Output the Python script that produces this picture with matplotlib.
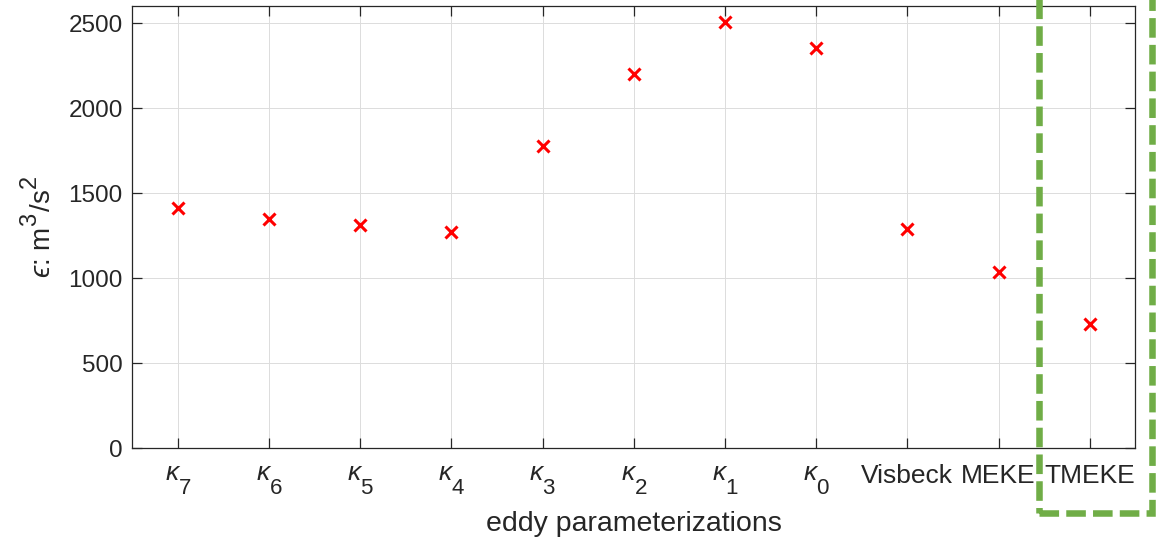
import matplotlib
matplotlib.use("Agg")
import matplotlib.pyplot as plt
from matplotlib.patches import Rectangle
import matplotlib._mathtext as _mt

# MATLAB-like TeX rendering: larger, lower sub/superscripts
_mt.SHRINK_FACTOR = 0.85
_mt.FontConstantsBase.sub1 = 1.0
_mt.FontConstantsBase.sup1 = 0.9
_mt.FontConstantsBase.script_space = 0.15

categories = [r'$\kappa_7$', r'$\kappa_6$', r'$\kappa_5$', r'$\kappa_4$', r'$\kappa_3$',
              r'$\kappa_2$', r'$\kappa_1$', r'$\kappa_0$', 'Visbeck', 'MEKE', 'TMEKE']
epsilon_values = [1410, 1350, 1315, 1271, 1778, 2200, 2506, 2352, 1287, 1039, 728]
y_ticks = [0, 500, 1000, 1500, 2000, 2500]

plt.rcParams['font.family'] = ['Liberation Sans', 'DejaVu Sans']
plt.rcParams['mathtext.fontset'] = 'custom'
plt.rcParams['mathtext.rm'] = 'Liberation Sans'
plt.rcParams['mathtext.it'] = 'Liberation Sans:italic'
plt.rcParams['mathtext.cal'] = 'Liberation Sans'
plt.rcParams['mathtext.fallback'] = 'stixsans'

fig = plt.figure(figsize=(11.58, 5.40), dpi=100)
ax = fig.add_axes([0.1143, 0.1698, 0.9804 - 0.1143, 0.9889 - 0.1698])

x = list(range(1, len(categories) + 1))
ax.plot(x, epsilon_values, linestyle='none', marker='x', color='#ff0000',
        markersize=8, markeredgewidth=2.2, zorder=5)

ax.set_xlim(0.5, len(categories) + 0.5)
ax.set_ylim(0, 2600)
ax.set_xticks(x)
ax.set_xticklabels(categories)
ax.set_yticks(y_ticks)

dark = '#262626'
ax.grid(True, color='#dcdcdc', linewidth=0.7)
ax.set_axisbelow(True)
for s in ax.spines.values():
    s.set_color(dark)
    s.set_linewidth(0.9)
ax.tick_params(direction='in', length=7, width=0.9, color=dark, labelcolor=dark,
               labelsize=17.5, top=True, right=True)
ax.tick_params(axis='x', pad=11, labelsize=19)
ax.tick_params(axis='y', pad=7)

ax.set_xlabel('eddy parameterizations', fontsize=20.5, color=dark, labelpad=11)
ax.set_ylabel('$\u03f5$: m$^3$/s$^2$', fontsize=20, color=dark, labelpad=8)

rect = Rectangle((0.8975, 0.0494), 0.9951 - 0.8975, 1.1, transform=fig.transFigure,
                 fill=False, edgecolor='#70ad47', linewidth=4.7,
                 linestyle=(0, (3, 1.1)), clip_on=False, zorder=10)
fig.patches.append(rect)

fig.savefig('out.png', dpi=100)
